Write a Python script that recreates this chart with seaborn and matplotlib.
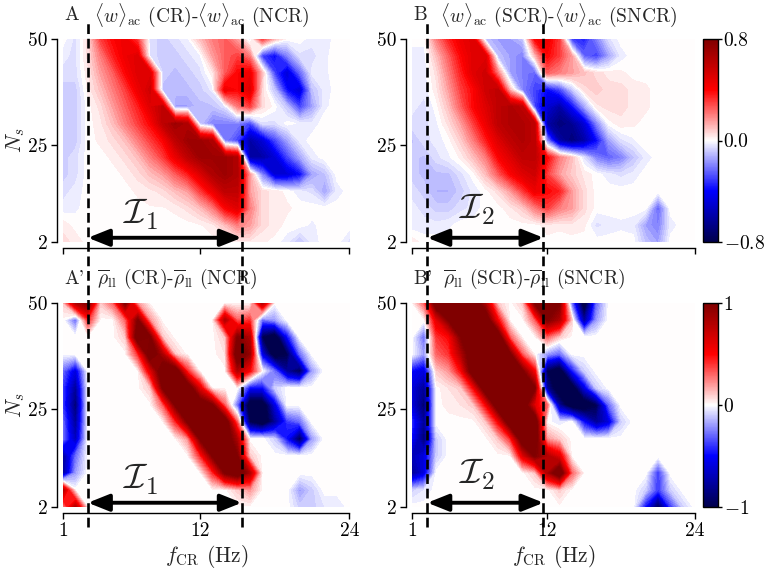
import numpy as np
import pandas as pd
import matplotlib
matplotlib.use("Agg")
import matplotlib.pyplot as plt
from matplotlib.lines import Line2D
from matplotlib.colors import Normalize
from matplotlib.cm import ScalarMappable
import seaborn as sns

# ---------------- data (values in units of 0.1) ----------------
f_cr = list(range(1, 25))                     # Hz
n_s = [50, 46, 42, 38, 34, 30, 26, 22, 18, 14, 10, 6, 2]   # rows top -> bottom

# A: <w>_ac (CR) - <w>_ac (NCR)
w_cr_rows = [
    [0, -0.5, 0.5, 3, 4, 4.5, 3, -0.5, -0.8, -0.5, -0.2, 1, 2, 2.5, 1.5, -0.5, 3, 1, 0, 0, -0.3, -0.3, 0, 0],
    [-0.3, -0.5, 0.5, 2, 3.5, 4.5, 5, -0.5, -0.8, -0.8, -0.5, -0.2, 1.5, 2.5, 3, 2, -3, -4, -2, -0.5, -0.5, -0.2, 0, 0],
    [-0.5, -0.5, 0.3, 1.5, 2.5, 4, 5, 5, -0.8, -1, -0.8, -0.5, 0.3, 2.5, 4, 4.5, 1, -3, -5, -2.5, -0.3, -0.2, 0, 0],
    [-0.8, -0.8, 0.2, 1, 2, 3, 4.5, 5.5, -1, -1, -1, -0.8, -0.3, 4.5, 4, 5, 0.5, -1, -4, -5, -1, -0.3, 0, 0],
    [-0.8, -0.8, 0, 0.5, 1.5, 2.5, 3.5, 5, 6, -1.5, -1.5, -1, -1, -0.5, 2, 3, 0.5, 0, -1, -3, -1.5, -0.2, 0, 0],
    [-0.8, -0.8, 0, 0.3, 1, 2, 3, 4, 6, 7, 6.5, -1, -2, -2, -2, -3, -0.5, -0.5, 0, -0.2, -0.3, 0, 0, 0],
    [-0.8, -0.8, 0, 0.2, 0.5, 1, 2, 3, 4, 6, 7, 7, 6.5, -2, -3, -6, -5, -3, -1.5, -0.3, 0, 0, 0, 0],
    [-0.8, -0.5, 0, 0, 0.2, 0.5, 1, 2, 3, 4.5, 6, 7, 7, 7, 6.5, -6, -6, -5, -3, -1.5, -0.3, 0, 0, 0],
    [-0.8, -0.5, 0, 0, 0, 0.2, 0.5, 1, 1.5, 2.5, 3.5, 5, 6.5, 7, 6.5, 1.5, -2, -5, -5, -4, -1.5, -1, 0, 0],
    [-0.5, -0.3, 0, 0, 0, 0, 0.2, 0.3, 0.5, 1, 1.5, 3, 4.5, 6, 6, 1.5, 0.5, 0.3, 0, -0.3, -0.5, -1.5, -0.3, 0],
    [-0.3, -0.2, 0, 0, 0, 0, 0, 0.1, 0.1, 0.2, 0.5, 1, 2, 4, 5, 2, 0.5, 0.3, 0.2, 0, 0, 0, 0, 0],
    [0.3, 0, 0, 0, 0, 0, 0, 0, 0, 0, 0, 0.1, 0.3, 1, 2, 1.5, 0.5, 0.3, 0, 0, -0.2, 0, 0, 0],
    [0.5, 0.3, 0, 0, 0, 0, 0, 0, 0, 0, 0, 0, 0, 0, 0.2, 0.3, 0.2, 0, -0.3, -1, -0.3, 0, 0, -0.5],
]

# B: <w>_ac (SCR) - <w>_ac (SNCR)
w_scr_rows = [
    [0, 0, 2, 3.5, 4.5, 5, -1, -1.5, -1.5, -1, 4, 4.5, 3, -3, -3.5, -2, -0.5, 0, 0, 0, 0, 0, 0, 0],
    [-0.3, -0.3, 1, 2.5, 4, 5, 5, -1, -1.5, -2, 1, 4, 3, 1.5, -2.5, -3, -1.5, -0.3, 0, 0, 0, 0, 0, 0],
    [-0.3, -0.3, 0.5, 2, 3.5, 5, 5.5, 2, -1.5, -2, -2.5, 2.5, 2, 1.5, 1, 0.5, 0.3, 0.2, 0, 0, 0, 0, 0, 0],
    [-0.3, -0.3, 0.3, 1.5, 3, 4, 5.5, 6, 1, -2, -3, -4, -3, -1, 0.5, 0.8, 0.5, 0.5, 0.3, 0.2, 0, 0, 0, 0],
    [-0.3, -0.5, 0, 1, 2.5, 4, 5, 6, 6.5, 6, -3, -5, -6, -4, -1.5, 0.3, 0.5, 0.5, 0.3, 0.2, 0, 0, 0, 0],
    [-0.5, -0.5, -0.2, 0.5, 1.5, 3, 4.5, 6, 6.5, 6.5, 6, -6, -7, -6.5, -5, -2, 0, 0.3, 0.2, 0, 0, 0, 0, 0],
    [-1, -0.5, -0.3, 0, 0.8, 2, 3.5, 5, 6, 6.5, 6, -2, -6, -7, -6, -4, -1.5, -0.5, -0.2, 0.1, 0, 0, 0, 0],
    [-0.8, -1, -0.5, -0.2, 0.2, 1, 2, 4, 5, 6, 6, 4, 2, 1, -0.5, -2, -2.5, -2, -1, -0.3, 0, 0, 0, 0],
    [-0.8, -1, -1, -1, -0.5, 0, 1, 2.5, 4, 5, 5.5, 3, 1.5, 0.8, 0.3, 0, -0.3, -0.5, -0.3, 0, 0, 0, 0, 0],
    [-0.5, -0.8, -1.2, -1.2, -0.8, -0.3, 0, 0.5, 1.5, 3, 4.5, 4, 3.5, 1.5, 0.5, 0, 0, 0, 0, 0, 0, 0, 0, 0],
    [-0.3, -0.5, -0.8, -0.8, -0.5, -0.3, 0, 0, 0.3, 0.8, 2, 3, 2, 1.5, 0.5, 0, 0, 0, 0, 0, -2.5, 0, 0, 0],
    [-0.3, -0.3, -0.3, -0.2, 0, 0, 0, 0, 0, 0, 0, 0.3, 0.2, 0.3, 0.2, -0.5, -0.3, -0.2, -0.3, -1.5, -2, -0.3, 0, 0],
    [0.3, 0, 0, 0, 0, 0, 0, 0, 0, 0, 0, 0, 0, 0, 0, 0, 0, 0, 0, -1, -1.5, 0, 0, 0],
]

# A': rho_ll (CR) - rho_ll (NCR)
rho_cr_rows = [
    [1, 8, 10, 1, 3, 10, 2, 0, 0, 0, 0, 0, 0, 0, 0, 0, 8, 0, 0, 0, 0, 0, 0, 0],
    [0, -3, 4, 0, 0, 3, 10, 2, 0, 0, 0, 0, 0, 8, 3, 4, -3, -2, 0, 0, 0, 0, 0, 0],
    [0, 0, 0, 0, 0, 1, 12, 10, 1, 0, 0, 0, 0, 1, 10, 8, -10, -12, -5, 0, 0, 0, 0, 0],
    [0, 0, 0, 0, 0, 0, 4, 12, 8, 1, 0, 0, 0, 0.5, 12, 9, -6, -12, -10, -3, 0, 0, 0, 0],
    [-3, -6, 0, 0, 0, 0, 0, 6, 12, 12, 4, 0, 0, 0, 8, 5, 0, -3, -8, -10, -2, 0, 0, 0],
    [-4, -8, 0, 0, 0, 0, 0, 1, 10, 12, 12, 6, 0, 0, 0, -5, -5, -1, 0, 0, 0, 0, 0, 0],
    [-4, -9, 0, 0, 0, 0, 0, 0, 3, 10, 12, 12, 10, 3, -3, -12, -12, -6, 0, 0, 0, 0, 0, 0],
    [-3, -8, 0, 0, 0, 0, 0, 0, 0, 4, 10, 12, 12, 12, 3, -10, -12, -8, -4, -3, 0, 0, 0, 0],
    [-3, -7, 0, 0, 0, 0, 0, 0, 0, 0, 2, 10, 12, 12, 8, 0, 0, -1, -5, -10, -2, 0, 0, 0],
    [-8, -3, 0, 0, 0, 0, 0, 0, 0, 0, 0, 4, 10, 12, 10, 1, 0, 0, 0, 0, 0, 0, 0, 0],
    [-8, -2, 0, 0, 0, 0, 0, 0, 0, 0, 0, 0, 4, 10, 12, 8, 0, 0, 0, 0, 0, 0, 0, 0],
    [8, 0, 0, 0, 0, 0, 0, 0, 0, 0, 0, 0, 0, 0, 1, 2, 0, 0, 0, -2, -1, 0, 0, 0],
    [2, 8, 0, 0, 0, 0, 0, 0, 0, 0, 0, 0, 0, 0, 0, 0, 0, 0, 0, -1, -1, -0.5, -0.5, 0],
]

# B': rho_ll (SCR) - rho_ll (SNCR)
rho_scr_rows = [
    [0, 3, 12, 12, 12, 12, 8, 1, 0, 1, 10, 12, 10, -3, -12, -3, 0, 0, 0, 0, 0, 0, 0, 0],
    [0, 0, 6, 10, 12, 12, 12, 5, 0, 0, 3, 10, 8, 1, -8, -2, 0, 0, 0, 0, 0, 0, 0, 0],
    [0, -3, 4, 5, 10, 12, 12, 12, 3, 0, 0, 3, 1, 0, 0, 0, 0, 0, 0, 0, 0, 0, 0, 0],
    [0, -2, 3, 4, 8, 12, 12, 12, 10, 3, 0, -2, -3, 0, 0, 0, 0, 0, 0, 0, 0, 0, 0, 0],
    [-5, -6, 1, 2, 5, 12, 12, 12, 12, 10, 5, -10, -12, -5, -1, 0, 0, 0, 0, 0, 0, 0, 0, 0],
    [-6, -8, 0, 0.5, 1, 5, 12, 12, 12, 12, 10, -8, -12, -12, -6, -1, 0, 0, 0, 0, 0, 0, 0, 0],
    [-6, -9, 0, 0.3, 0.5, 1, 5, 12, 12, 12, 6, 3, -8, -12, -12, -10, -3, 0, 0, 0, 0, 0, 0, 0],
    [-4, -8, 0, 0, 0, 0, 1, 5, 12, 12, 12, 0, -0.5, 0, -5, -8, -6, -1, 0, 0, 0, 0, 0, 0],
    [-5, -9, -1, 0, 0, 0, 0, 1, 4, 12, 12, 2, 1, 0, 0, 0, 0, 0, 0, 0, 0, 0, 0, 0],
    [-7, -6, -1, 0, 0, 0, 0, 0, 0, 6, 10, 8, 6, 0, 0, 0, 0, 0, 0, 0, 0, 0, 0, 0],
    [-8, -6, 0, 0, 0, 0, 0, 0, 0, 0, 1, 8, 12, 3, 0, 0, 0, 0, 0, 0, -4, 0, 0, 0],
    [-1, -0.5, 0, 0, 0, 0, 0, 0, 0, 0, 0, 0, 1, 0, 0, 0, 0, 0, 0, -1, -4, -1, 0, 0],
    [0, 0, 0, 0, 0, 0, 0, 0, 0, 0, 0, 0, 0, 0, 0, 0, 0, 0, 0, -5, -10, -4, -1, 0],
]

interval_1 = [3.0, 15.35]   # I_1 bounds (Hz)
interval_2 = [2.27, 11.7]   # I_2 bounds (Hz)
x_ticks = [1, 12, 24]
y_ticks = [2, 25, 50]

# ---------------- style ----------------
sns.set_style("ticks")
plt.rcParams.update({
    "font.family": "serif",
    "font.serif": ["cmr10", "DejaVu Serif"],
    "mathtext.fontset": "cm",
    "axes.formatter.use_mathtext": True,
    "axes.unicode_minus": False,
    "font.size": 14,
    "axes.linewidth": 1.0,
    "xtick.major.width": 1.0,
    "ytick.major.width": 1.0,
    "xtick.major.size": 4,
    "ytick.major.size": 4,
    "xtick.major.pad": 3,
    "ytick.major.pad": 3,
    "xtick.color": "black", "ytick.color": "black",
    "axes.edgecolor": "black",
})

TICK_FS = 14
TITLE_FS = 14
LABEL_FS = 15.5

fig = plt.figure(figsize=(7.65, 5.7), dpi=100)

W, H = 765, 570
def rect(l, t, r, b):
    return [l / W, 1 - b / H, (r - l) / W, (b - t) / H]

panels = [
    dict(rows=w_cr_rows, rect=rect(63, 39, 349.5, 242), vmax=0.8, interval=interval_1,
         letter="A", title=r"$\langle w\rangle_{\rm ac}$ (CR)-$\langle w\rangle_{\rm ac}$ (NCR)",
         tx=0.108, lab=r"$\mathcal{I}_1$", lpos=(7.2, 8.6), bottom=False, left=True),
    dict(rows=w_scr_rows, rect=rect(411.7, 39, 695, 242), vmax=0.8, interval=interval_2,
         letter="B", title=r"$\langle w\rangle_{\rm ac}$ (SCR)-$\langle w\rangle_{\rm ac}$ (SNCR)",
         tx=0.1, lab=r"$\mathcal{I}_2$", lpos=(6.3, 9.6), bottom=False, left=False),
    dict(rows=rho_cr_rows, rect=rect(63, 303, 349.5, 507), vmax=1.0, interval=interval_1,
         letter="A'", title=r"$\overline{\rho}_{\rm ll}$ (CR)-$\overline{\rho}_{\rm ll}$ (NCR)",
         tx=0.119, lab=r"$\mathcal{I}_1$", lpos=(7.2, 8.6), bottom=True, left=True),
    dict(rows=rho_scr_rows, rect=rect(411.7, 303, 695, 507), vmax=1.0, interval=interval_2,
         letter="B'", title=r"$\overline{\rho}_{\rm ll}$ (SCR)-$\overline{\rho}_{\rm ll}$ (SNCR)",
         tx=0.11, lab=r"$\mathcal{I}_2$", lpos=(6.3, 9.6), bottom=True, left=False),
]

cmap = plt.get_cmap("seismic")
axes = []
for p in panels:
    ax = fig.add_axes(p["rect"])
    df = pd.DataFrame(p["rows"], index=n_s, columns=f_cr).sort_index()
    Z = df.values * 0.1
    vmax = p["vmax"]
    levels = np.linspace(-vmax, vmax, 62)
    ax.contourf(df.columns.values, df.index.values, Z, levels=levels, cmap=cmap,
                norm=Normalize(-vmax, vmax), extend="both")
    ax.set_xlim(1, 24)
    ax.set_ylim(2, 50)
    ax.set_xticks(x_ticks)
    ax.set_yticks(y_ticks)
    ax.set_xticklabels([str(t) for t in x_ticks])
    ax.set_yticklabels([str(t) for t in y_ticks])
    ax.tick_params(labelsize=TICK_FS, labelbottom=p["bottom"])
    sns.despine(ax=ax, offset=4, trim=True)
    if p["left"]:
        ax.set_ylabel(r"$N_s$", fontsize=LABEL_FS, labelpad=1)
    if p["bottom"]:
        ax.set_xlabel(r"$f_{\rm CR}$ (Hz)", fontsize=LABEL_FS, labelpad=2)
    ax.text(0.005, 1.118, p["letter"], transform=ax.transAxes, fontsize=TITLE_FS,
            ha="left", va="center")
    ax.text(p["tx"], 1.118, p["title"], transform=ax.transAxes, fontsize=TITLE_FS,
            ha="left", va="center")
    lo, hi = p["interval"]
    ax.annotate("", xy=(hi, 3.0), xytext=(lo, 3.0),
                arrowprops=dict(arrowstyle="<|-|>,head_length=0.8,head_width=0.32",
                                color="black", lw=2.8, mutation_scale=16,
                                shrinkA=0, shrinkB=0), zorder=5)
    ax.text(p["lpos"][0], p["lpos"][1], p["lab"], fontsize=26, ha="center", va="center")
    axes.append(ax)

# dashed vertical interval lines spanning both rows
for ax, interval in [(axes[0], interval_1), (axes[1], interval_2)]:
    for f in interval:
        xd = ax.transData.transform((f, 2.0))
        xf = fig.transFigure.inverted().transform(xd)[0]
        fig.add_artist(Line2D([xf, xf], [1 - 527 / H, 1 - 22 / H], transform=fig.transFigure,
                              color="black", ls=(0, (3.7, 1.8)), lw=1.9))

# colorbars
for crect, vmax, ticks, labels in [
    (rect(703, 39, 718, 242), 0.8, [-0.8, 0.0, 0.8], [r"$-0.8$", "0.0", "0.8"]),
    (rect(703, 303, 718, 507), 1.0, [-1, 0, 1], [r"$-1$", "0", "1"]),
]:
    cax = fig.add_axes(crect)
    sm = ScalarMappable(norm=Normalize(-vmax, vmax), cmap=cmap)
    cb = fig.colorbar(sm, cax=cax, ticks=ticks)
    cb.ax.set_yticklabels(labels)
    cb.ax.tick_params(labelsize=TICK_FS, length=3, width=1.0, pad=1)
    cb.outline.set_linewidth(1.0)

fig.savefig("out.png", dpi=100)
